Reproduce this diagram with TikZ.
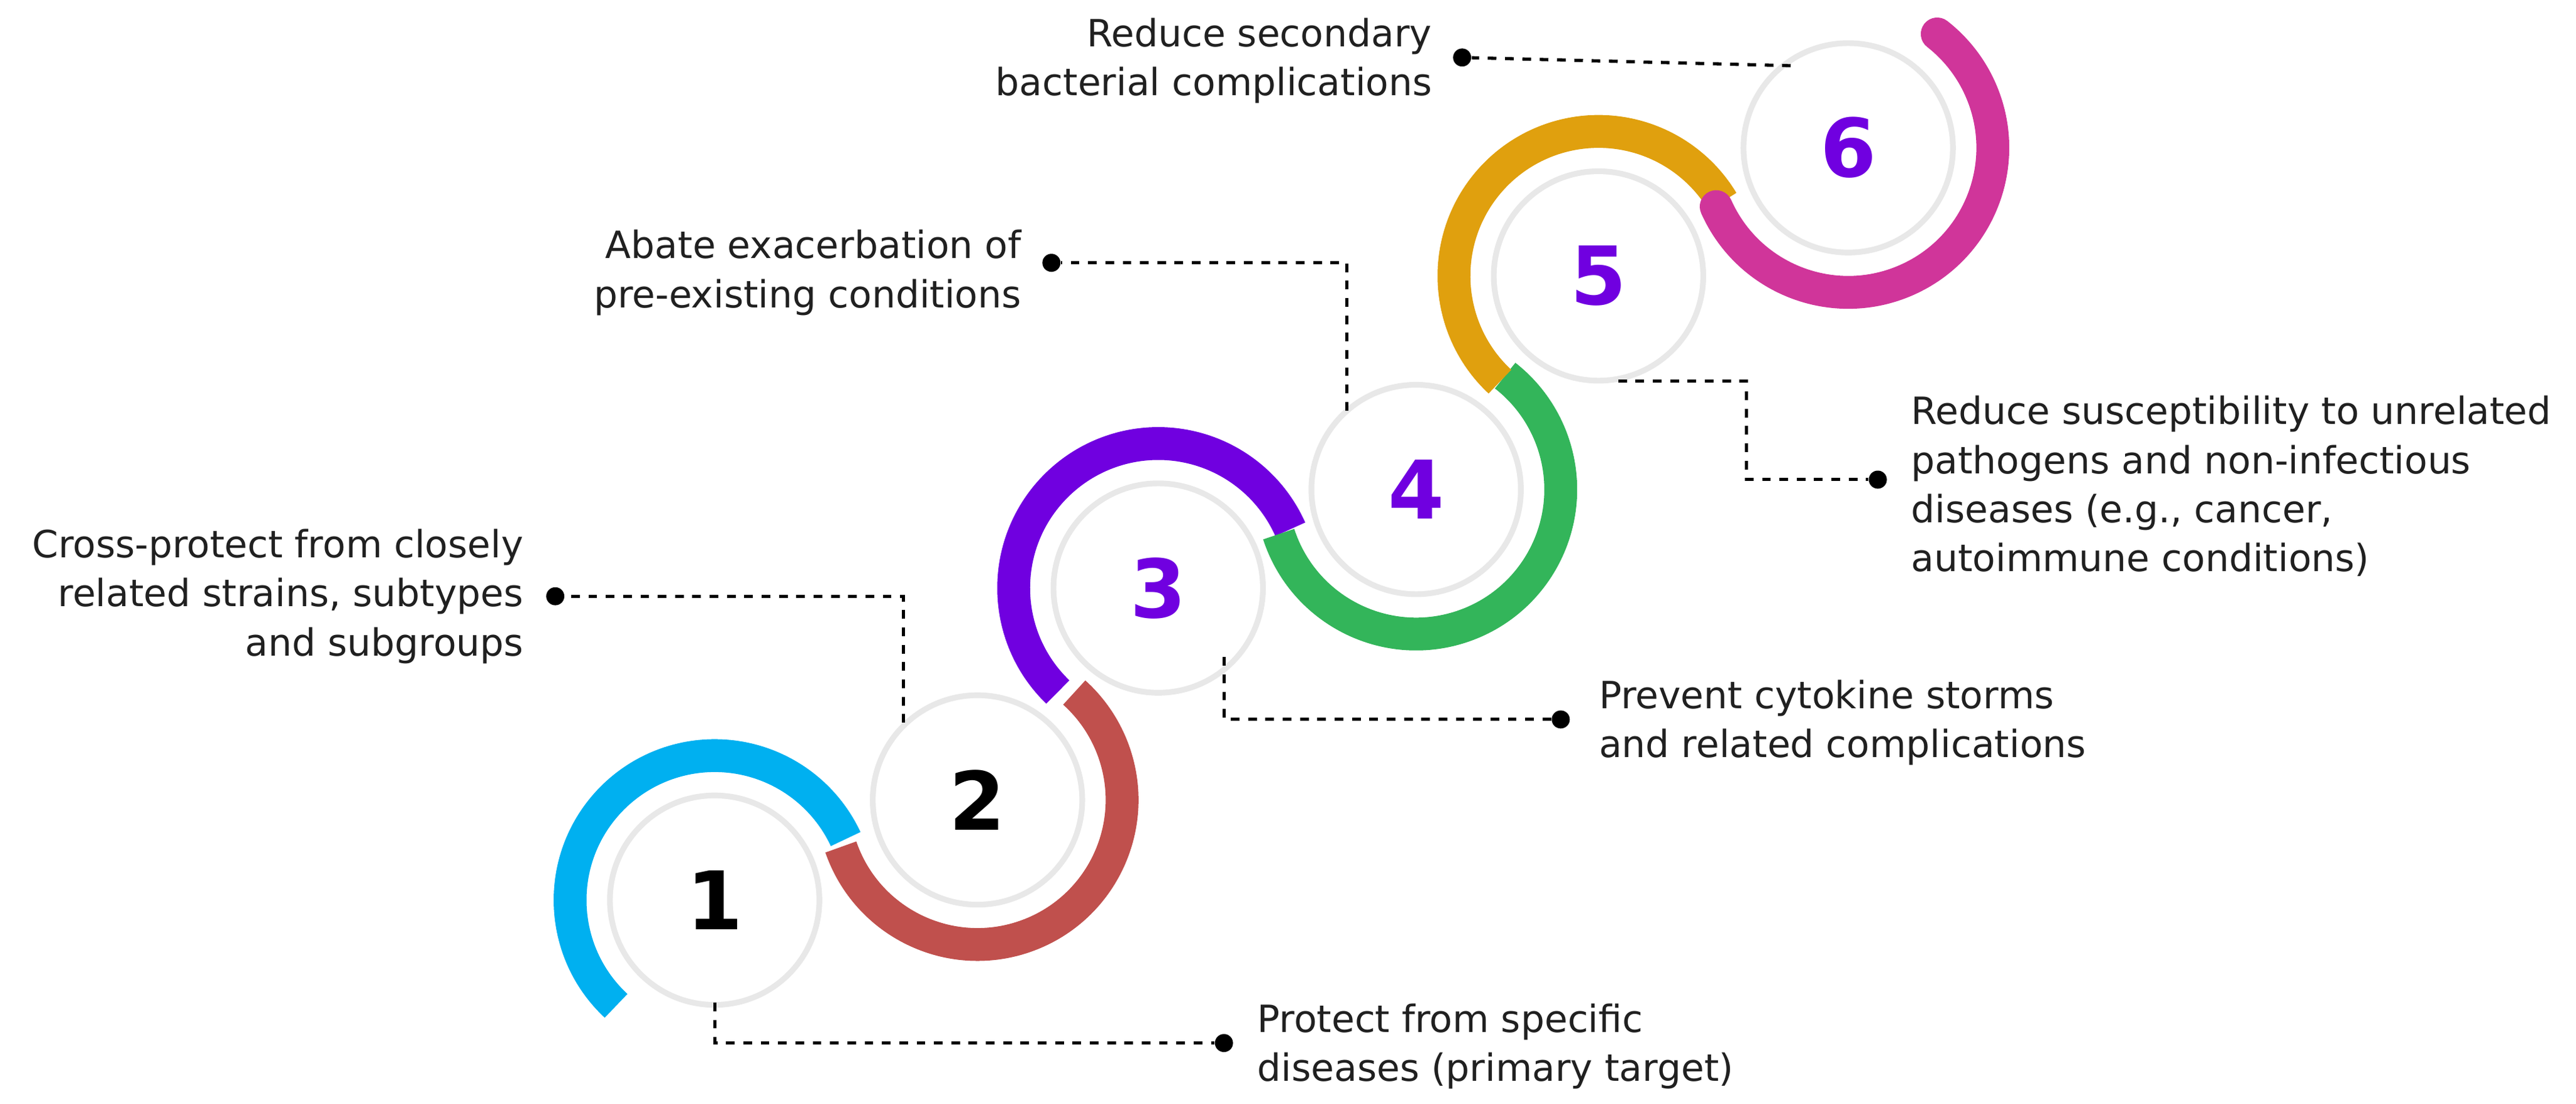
\documentclass[tikz,border=0pt]{standalone}
\usepackage{fontspec}
\setmainfont{DejaVu Sans}
\usetikzlibrary{calc}
\definecolor{cyanarc}{HTML}{00B0F0}
\definecolor{redarc}{HTML}{C0504D}
\definecolor{purplearc}{HTML}{7000E0}
\definecolor{greenarc}{HTML}{33B55A}
\definecolor{orangearc}{HTML}{E0A00E}
\definecolor{pinkarc}{HTML}{D0359A}
\definecolor{txt}{HTML}{202020}
\begin{document}
\begin{tikzpicture}[x=0.02cm, y=-0.02cm,
    stage/.style={circle, fill=white, minimum size=2.48cm, inner sep=0pt, font=\bfseries\fontsize{28}{28}\selectfont},
    shade/.style={circle, fill=gray!18, minimum size=2.62cm, inner sep=0pt},
    ring/.style={line width=0.4cm},
    dot/.style={circle, fill=black, minimum size=0.22cm, inner sep=0pt},
    link/.style={dashed, line width=1.1pt},
    label/.style={text=txt, font=\fontsize{13}{17}\selectfont, inner sep=0pt}]

    \useasboundingbox (0,0) rectangle (1568,672);

    % arcs
    \draw[ring, cyanarc] (435,548) ++(227:1.76cm) arc[start angle=227, end angle=25, radius=1.76cm];
    \draw[ring, redarc] (595,487) ++(199:1.76cm) arc[start angle=199, end angle=408, radius=1.76cm];
    \draw[ring, purplearc] (705,358) ++(226:1.76cm) arc[start angle=226, end angle=24, radius=1.76cm];
    \draw[ring, greenarc] (862,298) ++(198:1.76cm) arc[start angle=198, end angle=412, radius=1.76cm];
    \draw[ring, orangearc] (973,168) ++(227:1.76cm) arc[start angle=227, end angle=31, radius=1.76cm];
    \draw[ring, pinkarc, line cap=round] (1125,90) ++(204:1.76cm) arc[start angle=204, end angle=412, radius=1.76cm];

    % circles
    \foreach \p in {(435,548), (595,487), (705,358), (862,298), (973,168), (1125,90)}
        \node[shade] at \p {};
    \node[stage] (c1) at (435,548) {1};
    \node[stage] (c2) at (595,487) {2};
    \node[stage, text=purplearc] (c3) at (705,358) {3};
    \node[stage, text=purplearc] (c4) at (862,298) {4};
    \node[stage, text=purplearc] (c5) at (973,168) {5};
    \node[stage, text=purplearc] (c6) at (1125,90) {6};

    % dots
    \node[dot] (d1) at (745,635) {};
    \node[dot] (d2) at (338,363) {};
    \node[dot] (d3) at (950,438) {};
    \node[dot] (d4) at (640,160) {};
    \node[dot] (d5) at (1143,292) {};
    \node[dot] (d6) at (890,35) {};

    \draw[link] (c1.south) |- (d1);
    \draw[link] (550,440) |- (d2);
    \draw[link] (745,400) |- (d3);
    \draw[link] (820,250) |- (d4);
    \draw[link] (985,232) -- (1063,232) |- (d5);
    \draw[link] (1090,40) -- (d6);

    % labels
    \node[label, anchor=west, align=left] (t1) at (765,637) {Protect from specific\\diseases (primary target)};
    \node[label, anchor=east, align=right] (t2) at (319,363) {Cross-protect from closely\\related strains, subtypes\\and subgroups};
    \node[label, anchor=west, align=left] (t3) at (973,440) {Prevent cytokine storms\\and related complications};
    \node[label, anchor=east, align=right] (t4) at (622,166) {Abate exacerbation of\\pre-existing conditions};
    \node[label, anchor=west, align=left] (t5) at (1163,296) {Reduce susceptibility to unrelated\\pathogens and non-infectious\\diseases (e.g., cancer,\\autoimmune conditions)};
    \node[label, anchor=east, align=right] (t6) at (872,37) {Reduce secondary\\bacterial complications};

\end{tikzpicture}
\end{document}
